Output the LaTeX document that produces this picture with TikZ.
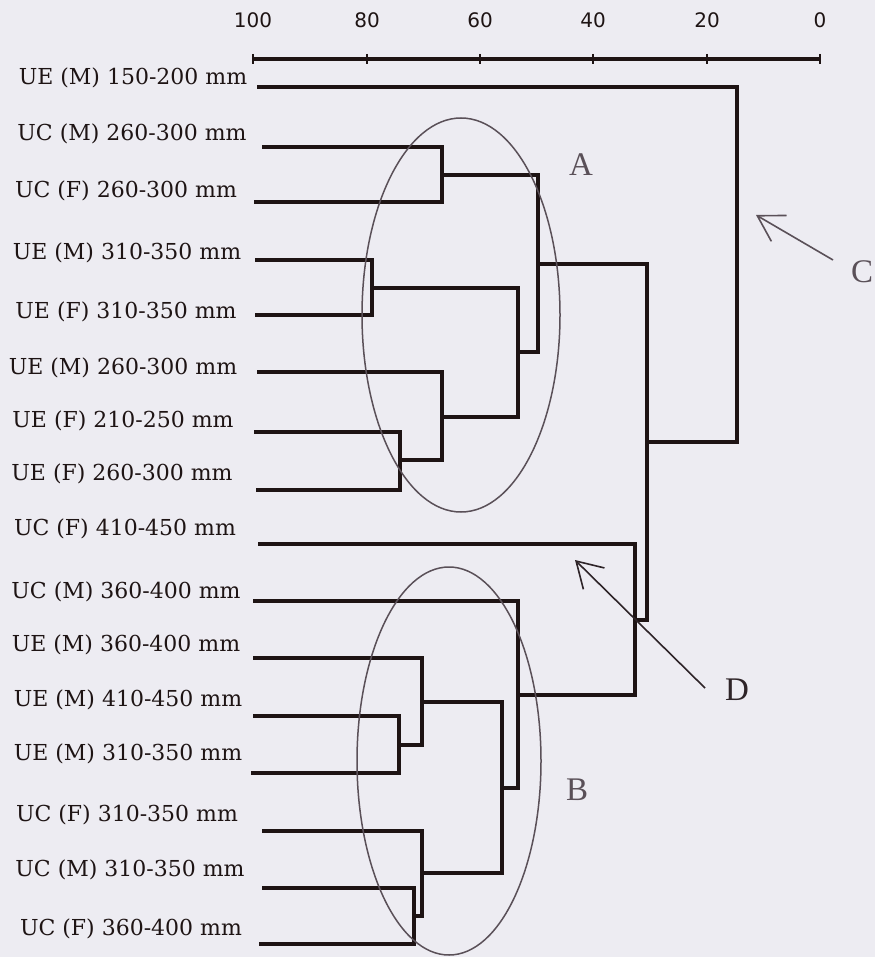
\documentclass[tikz,border=0pt]{standalone}
\usepackage{fontspec}
\setmainfont{DejaVu Serif}
\newfontfamily\axisfont{DejaVu Sans}
\newfontfamily\letterfont{Liberation Serif}
\usetikzlibrary{arrows.meta}
\definecolor{bg}{HTML}{EDECF2}
\definecolor{ink}{HTML}{1E1414}
\definecolor{pen}{HTML}{5A5058}
\definecolor{darkpen}{HTML}{2E2428}
\begin{document}
\begin{tikzpicture}[x=1pt,y=-1pt,
  tree/.style={draw=ink,line width=3.6pt,line join=miter},
  leaflab/.style={font=\fontsize{22}{26}\selectfont,text=ink,anchor=base,inner sep=0pt},
  ticklab/.style={font=\axisfont\fontsize{20}{24}\selectfont,text=ink,anchor=base,inner sep=0pt},
  grp/.style={font=\letterfont\fontsize{33}{36}\selectfont,text=pen,inner sep=0pt},
  ring/.style={draw=pen,line width=1.5pt},
  pointer/.style={draw=pen,line width=1.6pt,-{Straight Barb[length=25pt,width=30pt,line width=1.6pt]}},
  axisline/.style={draw=ink,line width=3.2pt},
  tickmark/.style={draw=ink,line width=2.8pt}
]
\useasboundingbox (0,0) rectangle (875,957);
\fill[bg] (0,0) rectangle (875,957);

% ---- axis ----
\coordinate (ax100) at (253,59);
\coordinate (ax0) at (820,59);
\draw[axisline] (ax100) -- (ax0);
\foreach \v/\xx in {100/253,80/367,60/480,40/593,20/707,0/820}{
  \node[ticklab] (t\v) at (\xx,28) {\v};
  \draw[tickmark] (\xx,54) -- (\xx,64);
}

% ---- leaf labels ----
\node[leaflab] (n1)  at (133,85)  {UE (M) 150-200 mm};
\node[leaflab] (n2)  at (132,141) {UC (M) 260-300 mm};
\node[leaflab] (n3)  at (126,198) {UC (F) 260-300 mm};
\node[leaflab] (n4)  at (127,260) {UE (M) 310-350 mm};
\node[leaflab] (n5)  at (126,318) {UE (F) 310-350 mm};
\node[leaflab] (n6)  at (123,374) {UE (M) 260-300 mm};
\node[leaflab] (n7)  at (123,427) {UE (F) 210-250 mm};
\node[leaflab] (n8)  at (122,480) {UE (F) 260-300 mm};
\node[leaflab] (n9)  at (125,535) {UC (F) 410-450 mm};
\node[leaflab] (n10) at (126,598) {UC (M) 360-400 mm};
\node[leaflab] (n11) at (126,651) {UE (M) 360-400 mm};
\node[leaflab] (n12) at (128,706) {UE (M) 410-450 mm};
\node[leaflab] (n13) at (128,760) {UE (M) 310-350 mm};
\node[leaflab] (n14) at (127,821) {UC (F) 310-350 mm};
\node[leaflab] (n15) at (130,876) {UC (M) 310-350 mm};
\node[leaflab] (n16) at (131,935) {UC (F) 360-400 mm};

% ---- leaf line starts ----
\coordinate (l1)  at (257,87);
\coordinate (l2)  at (262,147);
\coordinate (l3)  at (254,202);
\coordinate (l4)  at (255,260);
\coordinate (l5)  at (255,315);
\coordinate (l6)  at (257,372);
\coordinate (l7)  at (254,432);
\coordinate (l8)  at (256,490);
\coordinate (l9)  at (258,544);
\coordinate (l10) at (253,601);
\coordinate (l11) at (253,658);
\coordinate (l12) at (253,716);
\coordinate (l13) at (251,773);
\coordinate (l14) at (262,831);
\coordinate (l15) at (262,888);
\coordinate (l16) at (259,944);

% ---- internal merge points ----
\coordinate (m23)    at (442,175);
\coordinate (m45)    at (372,288);
\coordinate (m78)    at (400,460);
\coordinate (m678)   at (442,417);
\coordinate (m45678) at (518,352);
\coordinate (mA)     at (538,264);
\coordinate (m1213)  at (399,745);
\coordinate (m1113)  at (422,702);
\coordinate (m1516)  at (414,916);
\coordinate (m1416)  at (422,873);
\coordinate (mB1)    at (502,788);
\coordinate (mB)     at (518,695);
\coordinate (mD)     at (635,620);
\coordinate (mAD)    at (647,442);
\coordinate (mroot)  at (737,264);

% ---- dendrogram ----
\draw[tree] (l2) -| (m23);  \draw[tree] (l3) -| (m23);
\draw[tree] (l4) -| (m45);  \draw[tree] (l5) -| (m45);
\draw[tree] (l7) -| (m78);  \draw[tree] (l8) -| (m78);
\draw[tree] (l6) -| (m678); \draw[tree] (m78) -| (m678);
\draw[tree] (m45) -| (m45678); \draw[tree] (m678) -| (m45678);
\draw[tree] (m23) -| (mA);  \draw[tree] (m45678) -| (mA);
\draw[tree] (l12) -| (m1213); \draw[tree] (l13) -| (m1213);
\draw[tree] (l11) -| (m1113); \draw[tree] (m1213) -| (m1113);
\draw[tree] (l15) -| (m1516); \draw[tree] (l16) -| (m1516);
\draw[tree] (l14) -| (m1416); \draw[tree] (m1516) -| (m1416);
\draw[tree] (m1113) -| (mB1); \draw[tree] (m1416) -| (mB1);
\draw[tree] (l10) -| (mB);  \draw[tree] (mB1) -| (mB);
\draw[tree] (l9) -| (mD);   \draw[tree] (mB) -| (mD);
\draw[tree] (mA) -| (mAD);  \draw[tree] (mD) -| (mAD);
\draw[tree] (l1) -| (mroot); \draw[tree] (mAD) -| (mroot);

% ---- cluster rings ----
\draw[ring] (461,315) ellipse [x radius=99pt, y radius=197pt];
\draw[ring] (449,761) ellipse [x radius=92pt, y radius=194pt];

% ---- group letters ----
\node[grp] (gA) at (581,165) {A};
\node[grp] (gB) at (577,790) {B};
\node[grp] (gC) at (862,272) {C};
\node[grp,text=darkpen] (gD) at (737,690) {D};

% ---- pointers ----
\coordinate (cfrom) at (833,260);
\coordinate (cto)   at (756,215);
\coordinate (dfrom) at (705,688);
\coordinate (dto)   at (575,560);
\draw[pointer] (cfrom) -- (cto);
\draw[pointer,draw=darkpen] (dfrom) -- (dto);
\end{tikzpicture}
\end{document}
